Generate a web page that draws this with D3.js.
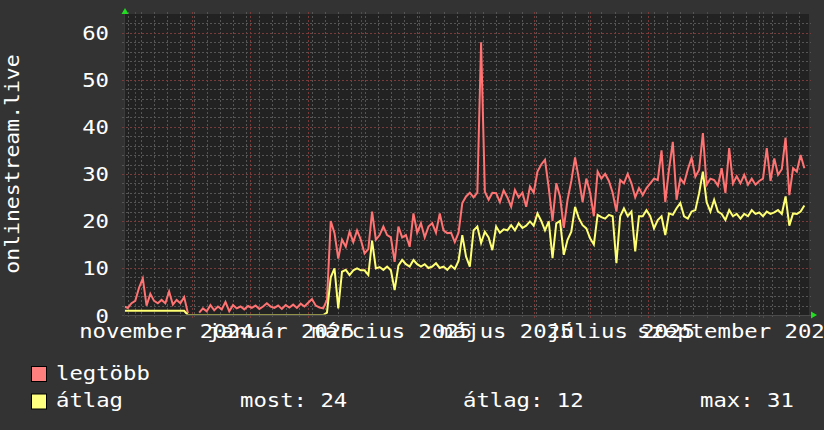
<!DOCTYPE html>
<html>
<head>
<meta charset="utf-8">
<script src="https://cdn.jsdelivr.net/npm/d3@7"></script>
<style>
    body{margin:0;background:#333333;}
    text{font-family:"DejaVu Sans Mono",monospace;font-size:20px;fill:#ffffff;}
</style>
</head>
<body>
<script>
//series start (UTC) and spacing of the samples, in days
var seriesStart = Date.UTC(2024, 9, 26);
var stepDays = 2;

//legtöbb (max) values, one every 2 days, null = no data
var maxVals = [1.8, 1.5, 2.5, 3, 5.8, 7.8, 2, 4.5, 3, 2.5,
    3.2, 2.5, 5, 2.2, 3.2, 2.5, 3.8, 0.4, null, null,
    0.5, 1.4, 0.8, 2.1, 1, 1.8, 1.2, 2.8, 0.8, 2.1,
    1.4, 1.8, 1.2, 1.9, 1.5, 2, 1.3, 1.8, 2.5, 1.8,
    1.5, 2, 1.3, 2.1, 1.6, 2.2, 1.5, 2.4, 1.8, 2.6,
    3.4, 2, 1.6, 1.4, 3.2, 20, 17.4, 12, 16, 14.5,
    17.7, 15.5, 18, 16, 13.1, 14, 22, 16, 17, 18.8,
    17, 16.5, 11.3, 18.8, 16.5, 17, 14.5, 21.6, 17.5, 19.5,
    16.5, 18.8, 19.5, 17.5, 21.6, 18, 17.4, 17.5, 15.5, 17.5,
    23.8, 25.2, 26, 25, 26, 58, 26.2, 24.5, 26, 25.9,
    24, 26.5, 25, 23, 26.6, 25, 26, 23, 27.3, 26,
    30.5, 32, 33, 27, 20, 28, 25.2, 18.5, 24.5, 28.5,
    33.5, 29, 24, 29, 26, 21, 30.5, 29, 30, 28.5,
    26, 22, 28.7, 28, 30, 28, 25, 27, 25.5, 27,
    28, 29, 28.7, 35, 24, 31, 36.8, 24.5, 29, 28,
    31, 33.4, 29.4, 30.9, 38.7, 27.7, 29, 28.7, 27.5, 31.2,
    25.9, 35.5, 28, 29.5, 28, 29.8, 27.7, 29, 27.7, 28.5,
    29, 35.5, 28.5, 33.3, 29.8, 31, 37.7, 25.5, 31.2, 30.5,
    34, 31.2];

//átlag (average) values, same dates
var avgVals = [0.9, 0.9, 0.9, 0.9, 0.9, 0.9, 0.9, 0.9, 0.9, 0.9,
    0.9, 0.9, 0.9, 0.9, 0.9, 0.9, 0.9, 0, 0, 0,
    0, 0, 0, 0, 0, 0, 0, 0, 0, 0,
    0, 0, 0, 0, 0, 0, 0, 0, 0, 0,
    0, 0, 0, 0, 0, 0, 0, 0, 0, 0,
    0, 0, 0, 0, 0.5, 8, 9.9, 1.4, 9.2, 9.6,
    8.5, 9.5, 9.9, 9.5, 9.5, 8.5, 15.8, 9.9, 10.2, 9.6,
    10.3, 9.5, 5.3, 10.5, 11.7, 10.8, 10.3, 11.7, 10.8, 10.3,
    10.8, 10, 10.3, 11, 10, 10.3, 9.6, 10.5, 9.8, 11.5,
    17, 12.4, 10.3, 18, 18.8, 15.3, 17.7, 16.5, 13.8, 18.8,
    17.5, 18.2, 18, 19.1, 18, 19.5, 18.5, 19, 19.9, 19,
    21.6, 20, 18, 19.9, 12.1, 19.5, 20, 12.8, 16, 17.7,
    23, 20.6, 19.1, 18.4, 16.3, 15, 21.3, 20.8, 20.5, 21.3,
    21, 11, 21, 22.7, 21, 22, 13.5, 21, 21, 22.3,
    21, 18.4, 20.2, 21, 17, 21.6, 21.3, 22.7, 23.8, 21,
    20.5, 22, 22.3, 25.9, 30.5, 24, 22, 24.5, 22, 21.5,
    20.2, 22.3, 21, 21.5, 20.5, 21.5, 21, 22.3, 21.5, 21.8,
    21, 22, 21.5, 21.8, 22.3, 21.5, 25.2, 19, 21.6, 21.5,
    22, 23.3];

//x axis labels (every second month) and y ticks
var xLabelMonths = [[2024, 10], [2025, 0], [2025, 2], [2025, 4], [2025, 6], [2025, 8]];
var xLabels = ["november 2024", "január 2025", "március 2025", "május 2025", "július 2025", "szeptember 2025"];
var yTicks = [0, 10, 20, 30, 40, 50, 60];

//legend
var seriesNames = ["legtöbb", "átlag"];
var seriesColors = ["#ff7373", "#ffff73"];
var legendFill = ["#ff7f7f", "#ffff7f"];
var statLabels = ["most: 24", "átlag: 12", "max: 31"];
var yTitle = "onlinestream.live";

(function(){
    var width = 824, height = 430;
    var left = 124, right = 810, top = 14, bottom = 315;
    var charW = 13.4; //the monospace text of the original is a bit wide

    var svg = d3.select("body").append("svg")
        .attr("width", width)
        .attr("height", height);

    svg.append("rect")
        .attr("width", width).attr("height", height)
        .attr("fill", "#333333");

    //scales
    var x = d3.scaleUtc()
        .domain([new Date(seriesStart), new Date(Date.UTC(2025, 9, 26))])
        .range([left, right]);
    var y = d3.scaleLinear()
        .domain([0, 64])
        .range([bottom, top]);

    function dateAt(i){
        return new Date(seriesStart + i * stepDays * 86400000);
    }

    //stretched text helper
    function label(g, s, px, py, anchor, w){
        return g.append("text")
            .attr("x", px).attr("y", py)
            .attr("text-anchor", anchor)
            .attr("textLength", s.length * (w || charW))
            .attr("lengthAdjust", "spacingAndGlyphs")
            .text(s);
    }

    //plot background
    svg.append("rect")
        .attr("x", left).attr("y", top)
        .attr("width", x.range()[1] - left - 1).attr("height", bottom - top)
        .attr("fill", "#222222");

    var grid = svg.append("g").attr("shape-rendering", "crispEdges");

    //minor horizontal grid every 2
    var minorY = d3.range(2, 64, 2).filter(function(v){ return v % 10 != 0; });
    grid.selectAll(".hminor").data(minorY).enter().append("line")
        .attr("x1", left - 2).attr("x2", right + 1)
        .attr("y1", function(d){ return Math.round(y(d)) + 0.5; })
        .attr("y2", function(d){ return Math.round(y(d)) + 0.5; })
        .attr("stroke", "#555555").attr("stroke-dasharray", "2,2");

    //weekly vertical grid
    var weeks = d3.utcMonday.range(x.domain()[0], x.domain()[1]);
    grid.selectAll(".vminor").data(weeks).enter().append("line")
        .attr("x1", function(d){ return Math.round(x(d)) + 0.5; })
        .attr("x2", function(d){ return Math.round(x(d)) + 0.5; })
        .attr("y1", top - 2).attr("y2", bottom + 2)
        .attr("stroke", "#555555").attr("stroke-dasharray", "2,2");

    //major grid (red)
    grid.selectAll(".hmajor").data(yTicks.slice(1)).enter().append("line")
        .attr("x1", left - 2).attr("x2", right + 1)
        .attr("y1", function(d){ return Math.round(y(d)) + 0.5; })
        .attr("y2", function(d){ return Math.round(y(d)) + 0.5; })
        .attr("stroke", "#7a3a3a").attr("stroke-dasharray", "2,2");

    var months = d3.utcMonth.range(x.domain()[0], x.domain()[1]);
    grid.selectAll(".vmajor").data(months).enter().append("line")
        .attr("x1", function(d){ return Math.round(x(d)) + 0.5; })
        .attr("x2", function(d){ return Math.round(x(d)) + 0.5; })
        .attr("y1", top - 2).attr("y2", bottom + 3)
        .attr("stroke", "#7a3a3a").attr("stroke-dasharray", "2,2");

    //data lines, clipped a little above the axis so zero shows dim
    svg.append("clipPath").attr("id", "clip").append("rect")
        .attr("x", left).attr("y", top - 2)
        .attr("width", right - left).attr("height", bottom - top + 1.6);

    var line = d3.line()
        .defined(function(d){ return d != null; })
        .x(function(d, i){ return x(dateAt(i)); })
        .y(function(d){ return y(d); });

    [maxVals, avgVals].forEach(function(vals, k){
        svg.append("path")
            .datum(vals)
            .attr("clip-path", "url(#clip)")
            .attr("fill", "none")
            .attr("stroke", seriesColors[k])
            .attr("stroke-width", 2)
            .attr("stroke-linejoin", "miter")
            .attr("d", line);
    });

    //axis lines on top
    svg.append("line")
        .attr("x1", left - 2).attr("x2", right + 1)
        .attr("y1", bottom + 0.5).attr("y2", bottom + 0.5)
        .attr("stroke", "#4a4a4a");
    svg.append("line")
        .attr("x1", left + 0.5).attr("x2", left + 0.5)
        .attr("y1", top - 2).attr("y2", bottom + 2)
        .attr("stroke", "#3a3a3a");

    //arrows
    svg.append("path").attr("d", "M121.5,14L128.5,14L125,8Z").attr("fill", "#22dd22");
    svg.append("path").attr("d", "M811,311.5L811,318.5L817,315Z").attr("fill", "#22dd22");

    //y tick labels
    var texts = svg.append("g");
    yTicks.forEach(function(v){
        label(texts, String(v), 109, y(v) + 7.5, "end");
    });

    //x labels: centred half a month after the month start
    xLabelMonths.forEach(function(m, i){
        var t = Date.UTC(m[0], m[1], 1);
        var cx = x(new Date(t)) + 31;
        label(texts, xLabels[i], cx, 337.5, "middle");
    });

    //y title
    label(texts, yTitle, 0, 0, "middle", 12.9)
        .attr("transform", "translate(18.5,164) rotate(-90)");

    //legend
    seriesNames.forEach(function(n, k){
        var ly = 366 + k * 27.5;
        svg.append("rect")
            .attr("x", 31.5).attr("y", ly + 0.5)
            .attr("width", 15).attr("height", 15)
            .attr("fill", legendFill[k]).attr("stroke", "#000000");
        label(texts, n, 56, ly + 13.5, "start");
    });
    var statX = [240, 463, 700];
    statLabels.forEach(function(s, i){
        label(texts, s, statX[i], 407, "start");
    });
})();
</script>
</body>
</html>
